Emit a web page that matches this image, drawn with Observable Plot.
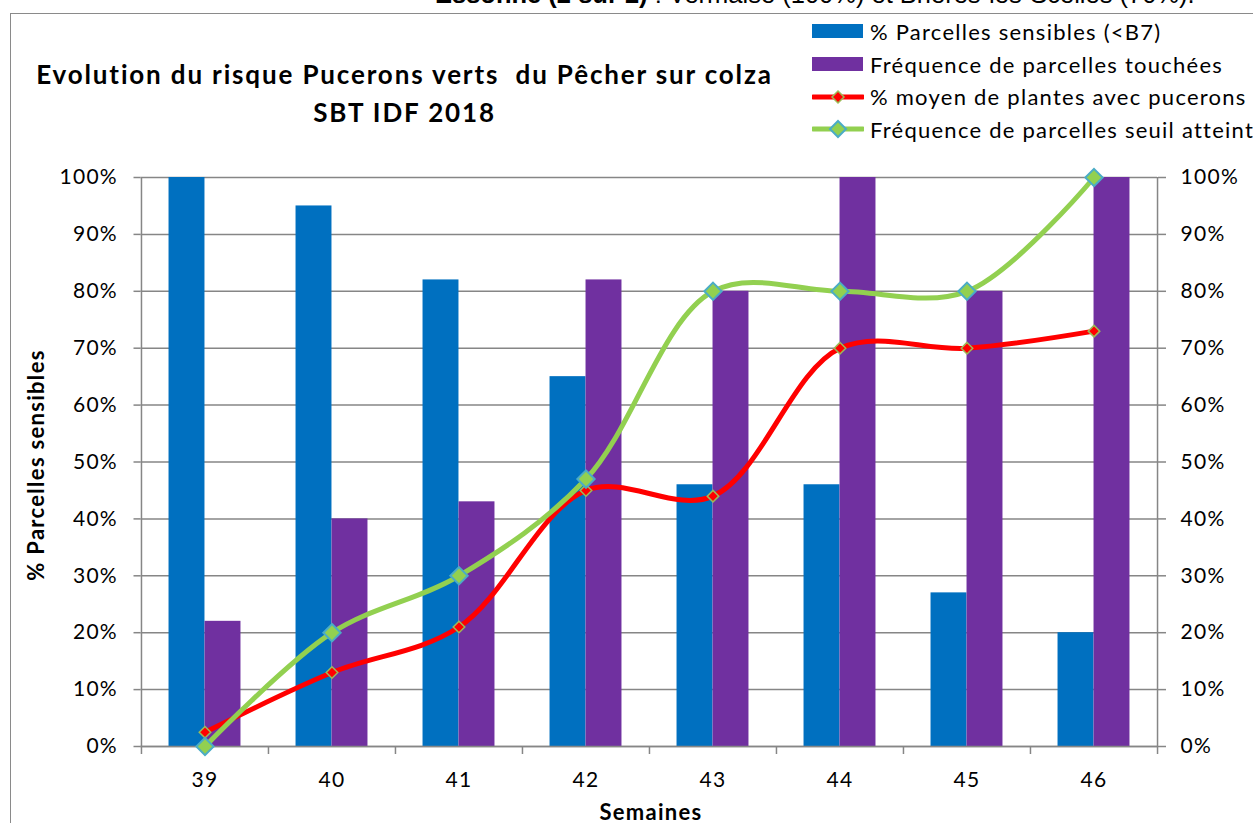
<!DOCTYPE html>
<html>
<head>
<meta charset="utf-8">
<script src="https://cdn.jsdelivr.net/npm/d3@7"></script>
<script src="https://cdn.jsdelivr.net/npm/@observablehq/plot@0.6"></script>
<style>
  html, body { margin: 0; padding: 0; background: #fff; }
  #wrap { position: relative; width: 1253px; height: 823px; overflow: hidden; background: #fff; font-family: Lato, "Open Sans", sans-serif; color: #000; }
  #chart { position: absolute; left: 0; top: 0; }
  #chart svg text { letter-spacing: 1.3px; }
  .abs { position: absolute; white-space: nowrap; }
  #frame { position: absolute; left: 10px; top: 13px; width: 1400px; height: 1000px; border: 1.5px solid #8a8a8a; box-sizing: border-box; }
  #topline { left: 435px; top: -19px; font-family: "Liberation Sans", Arial, sans-serif; font-size: 25.5px; line-height: 26px; }
  #title { left: 0px; top: 55px; width: 809px; text-align: center; font-weight: bold; font-size: 26px; letter-spacing: 1.85px; line-height: 38px; }
  #legend { left: 812px; top: 15px; font-size: 22px; letter-spacing: 1.25px; }
  .item { display: flex; align-items: center; height: 32.7px; }
  .item svg { margin-right: 6px; }
  #ylab { left: 35px; top: 465px; transform: translate(-50%, -50%) rotate(-90deg); font-weight: bold; font-size: 22px; letter-spacing: 1.3px; }
  #xlab { left: 651px; top: 811px; transform: translate(-50%, -50%); font-weight: bold; font-size: 22px; letter-spacing: 1.3px; }
</style>
</head>
<body>
<div id="wrap">
  <div id="frame"></div>
  <div id="chart"></div>
  <div class="abs" id="topline"><b>Essonne (2 sur 2)</b> : Vermaise (100%) et Brières-les-Scellés (70%).</div>
  <div class="abs" id="title">Evolution du risque Pucerons verts&nbsp; du Pêcher sur colza<br>SBT IDF 2018</div>
  <div class="abs" id="legend"></div>
  <div class="abs" id="ylab">% Parcelles sensibles</div>
  <div class="abs" id="xlab">Semaines</div>
</div>
<script>
// ---- data ----
const weeks = ["39", "40", "41", "42", "43", "44", "45", "46"];
const parcellesSensibles = [100, 95, 82, 65, 46, 46, 27, 20];
const parcellesTouchees = [22, 40, 43, 82, 80, 100, 80, 100];
const moyenPlantes = [2.5, 13, 21, 45, 44, 70, 70, 73];
const seuilAtteint = [0, 20, 30, 47, 80, 80, 80, 100];
const yTicks = [0, 10, 20, 30, 40, 50, 60, 70, 80, 90, 100];
const seriesNames = [
  "% Parcelles sensibles (<B7)",
  "Fréquence de parcelles touchées",
  "% moyen de plantes avec pucerons",
  "Fréquence de parcelles seuil atteint"
];

// ---- styles ----
const BLUE = "#0070C0", PURPLE = "#7030A0", RED = "#FF0000", GREEN = "#92D050";
const RED_MK = "#9BBB59", GREEN_MK = "#4BACC6", GRID = "#868686";

const W = 1253, H = 823;
const mL = 140.5, mR = 96, mT = 177, mB = 77;
const bw = (W - mL - mR) / weeks.length;
const barW = 36;

const table = weeks.map((w, i) => ({
  week: w,
  sensibles: parcellesSensibles[i],
  touchees: parcellesTouchees[i],
  moyen: moyenPlantes[i],
  seuil: seuilAtteint[i]
}));
const lastWeek = [weeks[weeks.length - 1]];

const chart = Plot.plot({
  width: W, height: H,
  marginLeft: mL, marginRight: mR, marginTop: mT, marginBottom: mB,
  style: { fontFamily: "Lato, 'Open Sans', sans-serif", fontSize: "21px", background: "transparent", color: "#000" },
  x: { type: "band", domain: weeks, padding: 0 },
  y: { domain: [0, 100] },
  marks: [
    Plot.gridY(yTicks, { stroke: GRID, strokeOpacity: 1, strokeWidth: 1.5 }),
    Plot.barY(table, { x: "week", y: "sensibles", fill: BLUE, insetLeft: bw / 2 - barW, insetRight: bw / 2 }),
    Plot.barY(table, { x: "week", y: "touchees", fill: PURPLE, insetLeft: bw / 2, insetRight: bw / 2 - barW }),
    Plot.ruleY([0], { stroke: GRID, strokeWidth: 1.5 }),
    // x tick marks at category boundaries
    Plot.ruleX(weeks, { x: d => d, dx: -bw / 2, y1: 0, y2: 0, insetBottom: -8, stroke: GRID, strokeWidth: 1.5 }),
    Plot.ruleX(lastWeek, { x: d => d, dx: bw / 2, y1: 0, y2: 0, insetBottom: -8, stroke: GRID, strokeWidth: 1.5 }),
    // vertical axis lines
    Plot.ruleX([weeks[0]], { x: d => d, dx: -bw / 2, y1: 0, y2: 100, stroke: GRID, strokeWidth: 1.5 }),
    Plot.ruleX(lastWeek, { x: d => d, dx: bw / 2, y1: 0, y2: 100, stroke: GRID, strokeWidth: 1.5 }),
    Plot.axisY(yTicks, { anchor: "left", tickFormat: d => d + "%", tickSize: 7, tickPadding: 16, stroke: GRID, strokeWidth: 1.5, fill: "#000", fontSize: 21, label: null }),
    Plot.axisY(yTicks, { anchor: "right", tickFormat: d => d + "%", tickSize: 8, tickPadding: 15, stroke: GRID, strokeWidth: 1.5, fill: "#000", fontSize: 21, label: null }),
    Plot.axisX({ tickSize: 0, tickPadding: 26, fill: "#000", fontSize: 21, label: null }),
    Plot.line(table, { x: "week", y: "moyen", stroke: RED, strokeWidth: 5, curve: "catmull-rom" }),
    Plot.dot(table, { x: "week", y: "moyen", symbol: "diamond2", r: 5.2, fill: RED, stroke: RED_MK, strokeWidth: 1.5 }),
    Plot.line(table, { x: "week", y: "seuil", stroke: GREEN, strokeWidth: 5, curve: "catmull-rom" }),
    Plot.dot(table, { x: "week", y: "seuil", symbol: "diamond2", r: 7.8, fill: GREEN, stroke: GREEN_MK, strokeWidth: 2 })
  ]
});
document.getElementById("chart").appendChild(chart);

// ---- legend ----
const legend = document.getElementById("legend");
const swatches = [
  `<svg width="52" height="16"><rect x="0" y="1" width="51" height="14" fill="${BLUE}"/></svg>`,
  `<svg width="52" height="16"><rect x="0" y="1" width="51" height="14" fill="${PURPLE}"/></svg>`,
  `<svg width="52" height="16"><line x1="1" y1="8" x2="51" y2="8" stroke="${RED}" stroke-width="5" stroke-linecap="round"/><path d="M26 2 L32 8 L26 14 L20 8 Z" fill="${RED}" stroke="${RED_MK}" stroke-width="1.5"/></svg>`,
  `<svg width="52" height="20"><line x1="1" y1="10" x2="51" y2="10" stroke="${GREEN}" stroke-width="5" stroke-linecap="round"/><path d="M26 2 L34 10 L26 18 L18 10 Z" fill="${GREEN}" stroke="${GREEN_MK}" stroke-width="2"/></svg>`
];
seriesNames.forEach((name, i) => {
  const div = document.createElement("div");
  div.className = "item";
  div.innerHTML = swatches[i] + `<span>${name.replace("<", "&lt;")}</span>`;
  legend.appendChild(div);
});
</script>
</body>
</html>
